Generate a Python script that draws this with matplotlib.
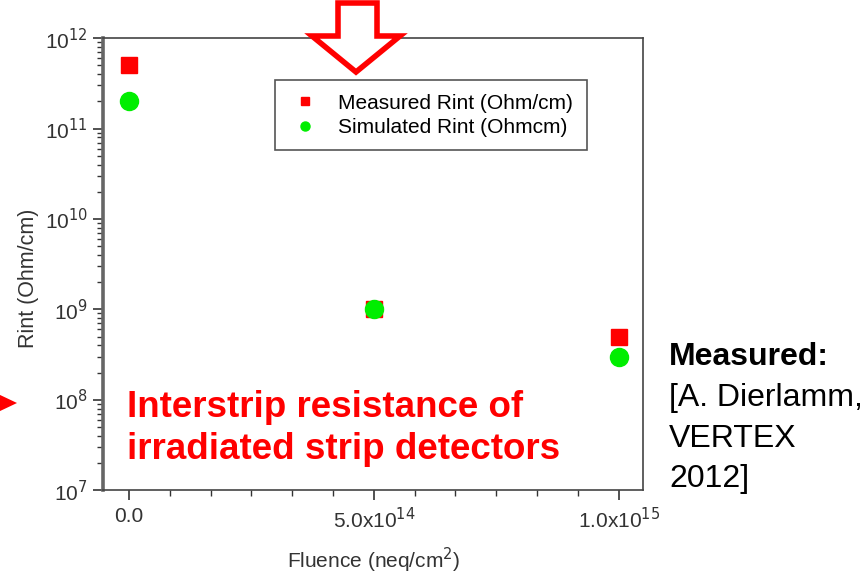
import matplotlib
matplotlib.use("Agg")
import matplotlib.pyplot as plt
from matplotlib.patches import Polygon
from matplotlib.ticker import FixedLocator, LogLocator, NullFormatter, FuncFormatter
import numpy as np

plt.rcParams['font.family'] = ['Liberation Sans', 'DejaVu Sans']

# data
fluence = [0.0, 5e14, 1e15]
rint_measured = [5e11, 1e9, 5e8]
rint_simulated = [2e11, 1e9, 3e8]
xtick_vals = [0.0, 5e14, 1e15]
xtick_labels = ["0.0", "5.0x10$^{14}$", "1.0x10$^{15}$"]

W, H = 865.0, 578.0
fig = plt.figure(figsize=(8.65, 5.78), dpi=100)
ax = fig.add_axes([0.119, 0.152, 0.624, 0.782])

ax.plot(fluence, rint_measured, 's', color="#ff0000", markersize=11.5,
        label="Measured Rint (Ohm/cm)", zorder=3)
ax.plot(fluence, rint_simulated, 'o', color="#00ee00", markersize=13,
        label="Simulated Rint (Ohmcm)", zorder=3)

ax.set_yscale("log")
ax.set_ylim(1e7, 1e12)
ax.set_xlim(-0.53e14, 1.049e15)

tick_col = "#333333"
ax.xaxis.set_major_locator(FixedLocator(xtick_vals))
ax.set_xticklabels(xtick_labels)
ax.xaxis.set_minor_locator(FixedLocator(np.arange(0, 1.0001e15, 5e14 / 6)))
ax.yaxis.set_major_locator(LogLocator(base=10))
ax.yaxis.set_minor_locator(LogLocator(base=10, subs=np.arange(2, 10)))
ax.yaxis.set_minor_formatter(NullFormatter())
ax.yaxis.set_major_formatter(FuncFormatter(lambda v, p: "10$^{%d}$" % round(np.log10(v))))

ax.tick_params(axis="both", which="major", direction="out", length=7, width=1.2,
               labelsize=15, colors=tick_col, top=False, right=False)
ax.tick_params(axis="both", which="minor", direction="out", length=4, width=1,
               colors=tick_col, top=False, right=False)
ax.tick_params(axis="x", pad=5)
ax.tick_params(axis="y", pad=4)
for s in ax.spines.values():
    s.set_color("#444444")
    s.set_linewidth(1.2)
ax.spines["left"].set_linewidth(2.6)
ax.spines["left"].set_color("#666666")

ax.set_ylabel("Rint (Ohm/cm)", fontsize=15.5, color=tick_col)
ax.yaxis.set_label_coords(-(103 - 29) / 540.0, (490 - 278) / 452.0)
ax.yaxis.label.set_va("center")
ax.set_xlabel("Fluence (neq/cm$^2$)", fontsize=15, color=tick_col)
ax.xaxis.set_label_coords((374 - 103) / 540.0, -(560 - 490) / 452.0)
ax.xaxis.label.set_va("center")

leg = ax.legend(loc="upper left", bbox_to_anchor=(0.3185, 0.907), fontsize=15,
                markerscale=0.5, frameon=True, fancybox=False, framealpha=1,
                edgecolor="#555555", handletextpad=0.8, borderpad=0.65,
                labelspacing=0.25, handlelength=1.6, borderaxespad=0)
leg.get_frame().set_linewidth(1.2)

# red hollow arrow at top
arrow_px = [(338, 3), (377, 3), (377, 36), (400, 36), (356, 72), (312, 36), (338, 36)]
fig.patches.append(Polygon([(x / W, 1 - y / H) for x, y in arrow_px], closed=True,
                           transform=fig.transFigure, facecolor="white",
                           edgecolor="#ff0000", linewidth=4, zorder=10))
# red filled arrow head at left edge
tri_px = [(-2, 394), (17, 403), (-2, 412)]
fig.patches.append(Polygon([(x / W, 1 - y / H) for x, y in tri_px], closed=True,
                           transform=fig.transFigure, facecolor="#ff0000",
                           edgecolor="none", zorder=10))

fig.text(127 / W, 1 - 390 / H, "Interstrip resistance of\nirradiated strip detectors",
         color="#ff0000", fontsize=26.5, fontweight="bold", va="top", ha="left",
         linespacing=1.25)

fig.text(669 / W, 1 - 357 / H, "Measured:", fontsize=23, fontweight="bold",
         va="center", ha="left")
fig.text(669 / W, 1 - 383 / H, "[A. Dierlamm,\nVERTEX\n2012]", fontsize=23,
         va="top", ha="left", linespacing=1.46)

fig.savefig("out.png", dpi=100)
